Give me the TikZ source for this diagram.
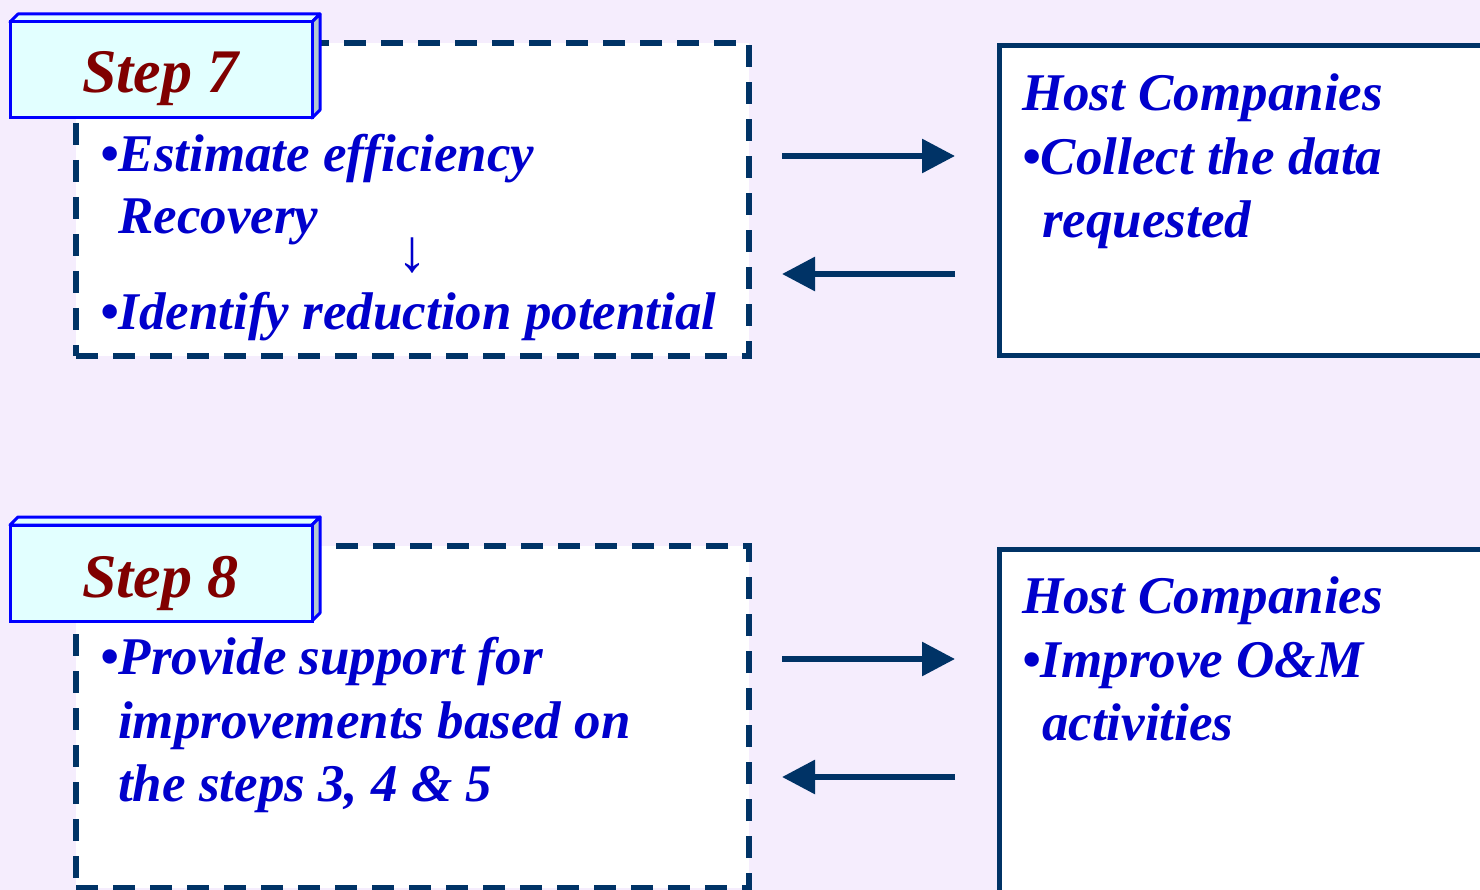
\documentclass[tikz,border=0pt]{standalone}
\usepackage{fontspec}
\setmainfont{Liberation Serif}
\usetikzlibrary{arrows.meta}
\definecolor{bgc}{HTML}{F5EDFD}
\definecolor{navy}{HTML}{003366}
\definecolor{txtblue}{HTML}{0000CC}
\definecolor{stepred}{HTML}{800000}
\definecolor{stepfill}{HTML}{E2FFFF}
\definecolor{stepline}{HTML}{0000FF}
\definecolor{sideface}{HTML}{B4C8D0}
\tikzset{
  dashbox/.style={draw=navy, line width=5.5pt, dash pattern=on 22pt off 15pt, fill=white, rectangle, inner sep=0pt, outer sep=0pt, anchor=north west},
  hostbox/.style={draw=navy, line width=5pt, fill=white, rectangle, inner sep=0pt, outer sep=0pt, anchor=north west},
  stepbox/.style={draw=stepline, line width=3pt, fill=stepfill, rectangle, inner sep=0pt, outer sep=0pt, anchor=north west, minimum width=302pt, minimum height=96pt},
  stepface/.style={draw=stepline, line width=3pt, line join=round},
  steptext/.style={text=stepred, font=\fontsize{62}{70}\selectfont\bfseries\itshape, anchor=base west, inner sep=0pt},
  body/.style={text=txtblue, font=\fontsize{53}{64}\selectfont\bfseries\itshape, anchor=base west, inner sep=0pt},
  downarr/.style={text=txtblue, font=\fontsize{60}{60}\selectfont\bfseries, anchor=base, inner sep=0pt},
  arr/.style={draw=navy, line width=6pt, -{Triangle[length=33pt,width=33pt]}},
}
\begin{document}
\begin{tikzpicture}[x=1pt,y=-1pt]
\useasboundingbox (0,0) rectangle (1480,890);
\fill[bgc] (0,0) rectangle (1480,890);
\clip (0,0) rectangle (1480,890);

% ---------- Step 7 ----------
\node[dashbox, minimum width=673pt, minimum height=313pt] (d7) at (76,43) {};
\node[hostbox, minimum width=520pt, minimum height=310pt] (h7) at (999,46) {};
\filldraw[stepface, fill=stepfill] (10,22) -- (18,14) -- (320,14) -- (312,22) -- cycle;
\filldraw[stepface, fill=sideface] (312,22) -- (320,14) -- (320,110) -- (312,118) -- cycle;
\node[stepbox] (s7) at (10,22) {};
\node[steptext] (s7t) at (82,93) {Step 7};

\node[body] (t7a) at (100,172) {•Estimate efficiency};
\node[body] (t7b) at (118,234) {Recovery};
\node[downarr] (t7arr) at (412,272) {↓};
\node[body] (t7c) at (100,330) {•Identify reduction potential};

\node[body] (h7a) at (1022,111) {Host Companies};
\node[body] (h7b) at (1022,175) {•Collect the data};
\node[body] (h7c) at (1042,238) {requested};

\coordinate (y7a) at (0,156);
\coordinate (y7b) at (0,274);
\draw[arr, shorten <=33pt, shorten >=44pt] (d7.east |- y7a) -- (h7.west |- y7a);
\draw[arr, shorten <=44pt, shorten >=33pt] (h7.west |- y7b) -- (d7.east |- y7b);

% ---------- Step 8 ----------
\node[dashbox, minimum width=673pt, minimum height=342pt] (d8) at (76,546) {};
\node[hostbox, minimum width=520pt, minimum height=400pt] (h8) at (999,549) {};
\filldraw[stepface, fill=stepfill] (10,525) -- (18,517) -- (320,517) -- (312,525) -- cycle;
\filldraw[stepface, fill=sideface] (312,525) -- (320,517) -- (320,613) -- (312,621) -- cycle;
\node[stepbox] (s8) at (10,525) {};
\node[steptext] (s8t) at (82,597) {Step 8};

\node[body] (t8a) at (100,674) {•Provide support for};
\node[body] (t8b) at (118,738) {improvements based on};
\node[body] (t8c) at (118,801) {the steps 3, 4 \& 5};

\node[body] (h8a) at (1022,613) {Host Companies};
\node[body] (h8b) at (1022,677) {•Improve O\&M};
\node[body] (h8c) at (1042,740) {activities};

\coordinate (y8a) at (0,659);
\coordinate (y8b) at (0,777);
\draw[arr, shorten <=33pt, shorten >=44pt] (d8.east |- y8a) -- (h8.west |- y8a);
\draw[arr, shorten <=44pt, shorten >=33pt] (h8.west |- y8b) -- (d8.east |- y8b);
\end{tikzpicture}
\end{document}
